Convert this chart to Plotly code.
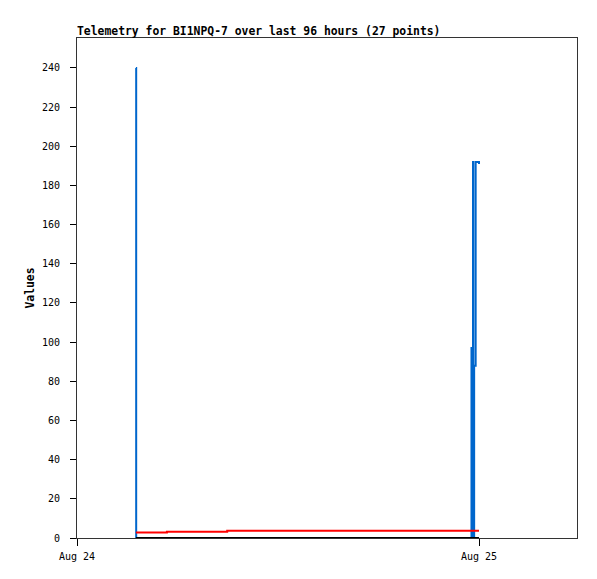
import plotly.graph_objects as go

# ---- data ----
times = [
    "2024-08-24 03:31:00", "2024-08-24 03:32:00", "2024-08-24 05:22:00",
    "2024-08-24 06:30:00", "2024-08-24 07:45:00", "2024-08-24 08:58:00",
    "2024-08-24 10:00:00", "2024-08-24 11:00:00", "2024-08-24 12:00:00",
    "2024-08-24 13:00:00", "2024-08-24 14:00:00", "2024-08-24 15:00:00",
    "2024-08-24 16:00:00", "2024-08-24 17:00:00", "2024-08-24 18:00:00",
    "2024-08-24 19:00:00", "2024-08-24 20:00:00", "2024-08-24 21:00:00",
    "2024-08-24 22:00:00", "2024-08-24 23:00:00", "2024-08-24 23:28:00",
    "2024-08-24 23:33:00", "2024-08-24 23:38:24", "2024-08-24 23:39:36",
    "2024-08-24 23:42:36", "2024-08-24 23:48:00", "2024-08-25 00:00:00",
]
blue_vals = [240, 0, 0, 0, 0, 0, 0, 0, 0, 0, 0, 0, 0, 0, 0, 0, 0, 0, 0, 0,
             0, 97, 192, 0, 88, 192, 191]
red_vals = [2.8, 2.8, 3.2, 3.2, 3.2, 3.7, 3.7, 3.7, 3.7, 3.7, 3.7, 3.7, 3.7,
            3.7, 3.7, 3.7, 3.7, 3.7, 3.7, 3.7, 3.7, 3.7, 3.7, 3.7, 3.7, 3.7, 3.7]
black_vals = [0] * 27

y_ticks = [0, 20, 40, 60, 80, 100, 120, 140, 160, 180, 200, 220, 240]
x_tickvals = ["2024-08-24", "2024-08-25"]
x_ticktext = ["Aug 24", "Aug 25"]

title_text = "Telemetry for BI1NPQ-7 over last 96 hours (27 points)"

FONT = "DejaVu Sans Mono"

fig = go.Figure()
fig.add_trace(go.Scatter(x=times, y=blue_vals, mode="lines", line_shape="hv",
                         line=dict(color="#0066cc", width=2), showlegend=False))
fig.add_trace(go.Scatter(x=times, y=red_vals, mode="lines", line_shape="hv",
                         line=dict(color="#ff0000", width=2), showlegend=False))
fig.add_trace(go.Scatter(x=times, y=black_vals, mode="lines", line_shape="hv",
                         line=dict(color="#000000", width=2), showlegend=False))

W, H = 589, 571
fig.update_layout(
    width=W, height=H,
    margin=dict(l=69, r=20, t=30, b=41),
    paper_bgcolor="white", plot_bgcolor="white",
    font=dict(family=FONT, size=10, color="#000000"),
    title=dict(text="<b>" + title_text + "</b>", x=0, xref="paper", xanchor="left",
               y=1 - 23 / H, yref="container", yanchor="middle",
               font=dict(family=FONT, size=11.4, color="#000000")),
    xaxis=dict(type="date", range=["2024-08-24 00:00", "2024-08-25 05:51"],
               tickvals=x_tickvals, ticktext=x_ticktext,
               showgrid=False, zeroline=False, showline=True, mirror=True,
               linecolor="#333333", linewidth=1,
               ticks="outside", ticklen=7, tickcolor="#000000",
               ticklabelstandoff=2,
               tickfont=dict(family=FONT, size=10, color="#000000")),
    yaxis=dict(range=[0, 255.3], tickvals=y_ticks,
               showgrid=False, zeroline=False, showline=True, mirror=True,
               linecolor="#333333", linewidth=1,
               ticks="outside", ticklen=6, tickcolor="#000000",
               ticklabelstandoff=8,
               tickfont=dict(family=FONT, size=10, color="#000000"),
               title=dict(text="<b>Values</b>", standoff=4,
                          font=dict(family=FONT, size=11.4, color="#000000"))),
)

fig.write_html("out.html")
